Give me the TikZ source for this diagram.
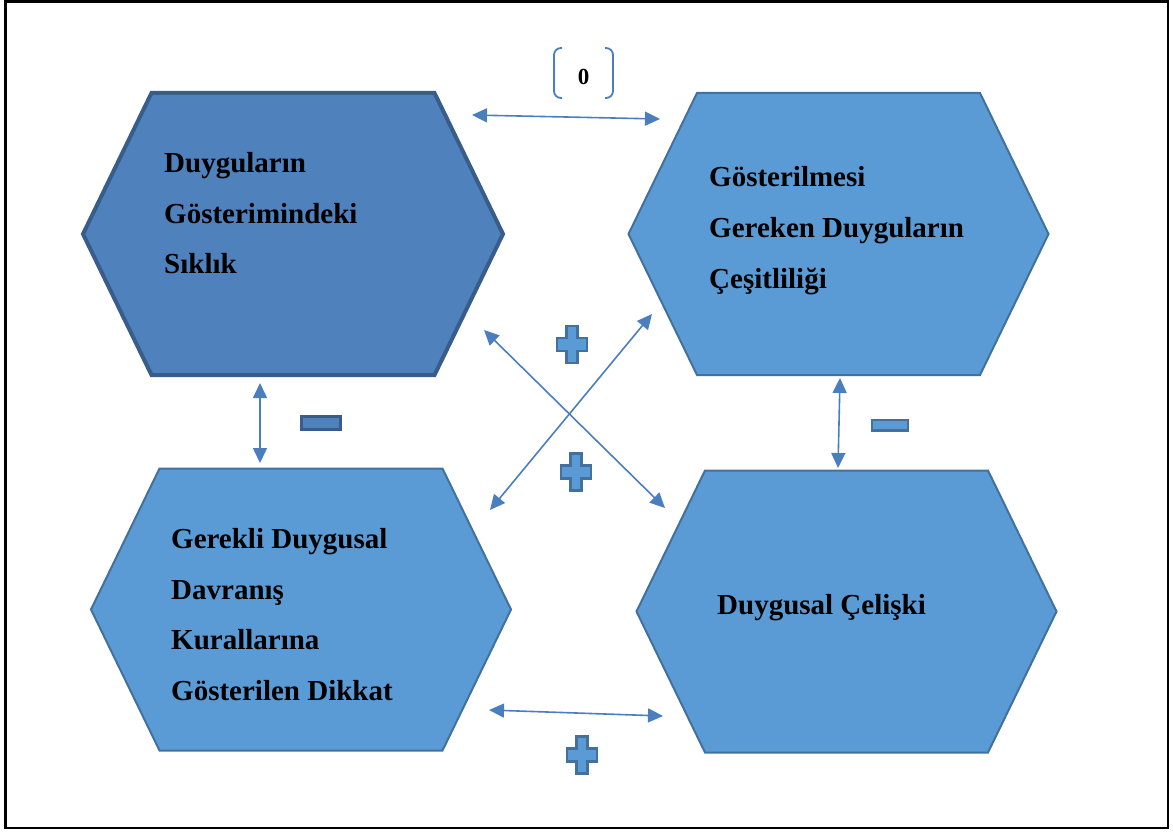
\documentclass[tikz,border=0pt]{standalone}
\usepackage{fontspec}
\setmainfont{Liberation Serif}
\usetikzlibrary{arrows.meta}

\definecolor{hexdark}{HTML}{4F81BD}
\definecolor{hexdarkline}{HTML}{385D8A}
\definecolor{hexfill}{HTML}{5B9BD5}
\definecolor{hexline}{HTML}{41719C}
\definecolor{linkblue}{HTML}{4A7EBF}

\tikzset{
  % irregular hexagon, 420 wide and 282 high, centred on the pic origin
  hexa/.pic={\path[pic actions] (-210,0) -- (-141.5,-141) -- (141.5,-141)
      -- (210,0) -- (141.5,141) -- (-141.5,141) -- cycle;},
  % plus sign, 30 wide and 37 high
  plussign/.pic={\path[pic actions] (-5.5,-18.5) -- (5.5,-18.5) -- (5.5,-6.5)
      -- (15,-6.5) -- (15,6.5) -- (5.5,6.5) -- (5.5,18.5) -- (-5.5,18.5)
      -- (-5.5,6.5) -- (-15,6.5) -- (-15,-6.5) -- (-5.5,-6.5) -- cycle;},
  hexmain/.style={fill=hexfill, draw=hexline, line width=2pt},
  hexstrong/.style={fill=hexdark, draw=hexdarkline, line width=4pt, line join=miter},
  signlight/.style={fill=hexfill, draw=hexline, line width=2.5pt},
  signdark/.style={fill=hexdark, draw=hexdarkline, line width=3pt},
  biarrow/.style={draw=linkblue, line width=1.6pt,
      {Triangle[length=15pt,width=14pt]}-{Triangle[length=15pt,width=14pt]}},
  label/.style={anchor=base west, inner sep=0pt,
      font=\fontsize{29}{35}\selectfont\bfseries},
}

\begin{document}
\begin{tikzpicture}[x=1pt, y=-1pt]
  \useasboundingbox (0,0) rectangle (1173,832);
  % outer frame
  \draw[line width=2.5pt] (5.5,1.5) rectangle (1168,828);

  % the four hexagons
  \pic[hexstrong] at (293,234) {hexa};
  \pic[hexmain] at (838.5,234) {hexa};
  \pic[hexmain] at (301,609.5) {hexa};
  \pic[hexmain] at (846.5,611.5) {hexa};

  % texts
  \node[label] (tl1) at (164,172) {Duyguların};
  \node[label] (tl2) at (164,223) {Gösterimindeki};
  \node[label] (tl3) at (164,273) {Sıklık};

  \node[label] (tr1) at (709,186) {Gösterilmesi};
  \node[label] (tr2) at (709,237) {Gereken Duyguların};
  \node[label] (tr3) at (709,288) {Çeşitliliği};

  \node[label] (bl1) at (171,548) {Gerekli Duygusal};
  \node[label] (bl2) at (171,599) {Davranış};
  \node[label] (bl3) at (171,649) {Kurallarına};
  \node[label] (bl4) at (171,700) {Gösterilen Dikkat};

  \node[label] (br1) at (717,614) {Duygusal Çelişki};

  % connector end points
  \coordinate (topL) at (472,115);
  \coordinate (topR) at (660,119);
  \coordinate (leftU) at (260,383);
  \coordinate (leftD) at (260,463);
  \coordinate (rightU) at (840,378);
  \coordinate (rightD) at (838,468);
  \coordinate (dA1) at (484,330);
  \coordinate (dA2) at (665,508);
  \coordinate (dB1) at (652,314);
  \coordinate (dB2) at (490,510);
  \coordinate (botL) at (489,710);
  \coordinate (botR) at (663,716);

  \draw[biarrow] (topL) -- (topR);
  \draw[biarrow] (leftU) -- (leftD);
  \draw[biarrow] (rightU) -- (rightD);
  \draw[biarrow] (dA1) -- (dA2);
  \draw[biarrow] (dB1) -- (dB2);
  \draw[biarrow] (botL) -- (botR);

  % signs on the links
  \pic[signlight] at (572,344.5) {plussign};
  \pic[signlight] at (576,472) {plussign};
  \pic[signlight] at (582,755) {plussign};
  \draw[signdark] (301,416) rectangle (340,429);
  \draw[signlight] (872,420) rectangle (908,430.5);

  % bracketed zero above the top link
  \draw[linkblue, line width=1.8pt, rounded corners=7pt]
    (562,48) -- (554,48) -- (554,98) -- (562,98);
  \draw[linkblue, line width=1.8pt, rounded corners=7pt]
    (605,48) -- (613,48) -- (613,98) -- (605,98);
  \node[anchor=base, inner sep=0pt, font=\fontsize{23}{28}\selectfont\bfseries]
    (zero) at (583.5,85) {0};
\end{tikzpicture}
\end{document}
